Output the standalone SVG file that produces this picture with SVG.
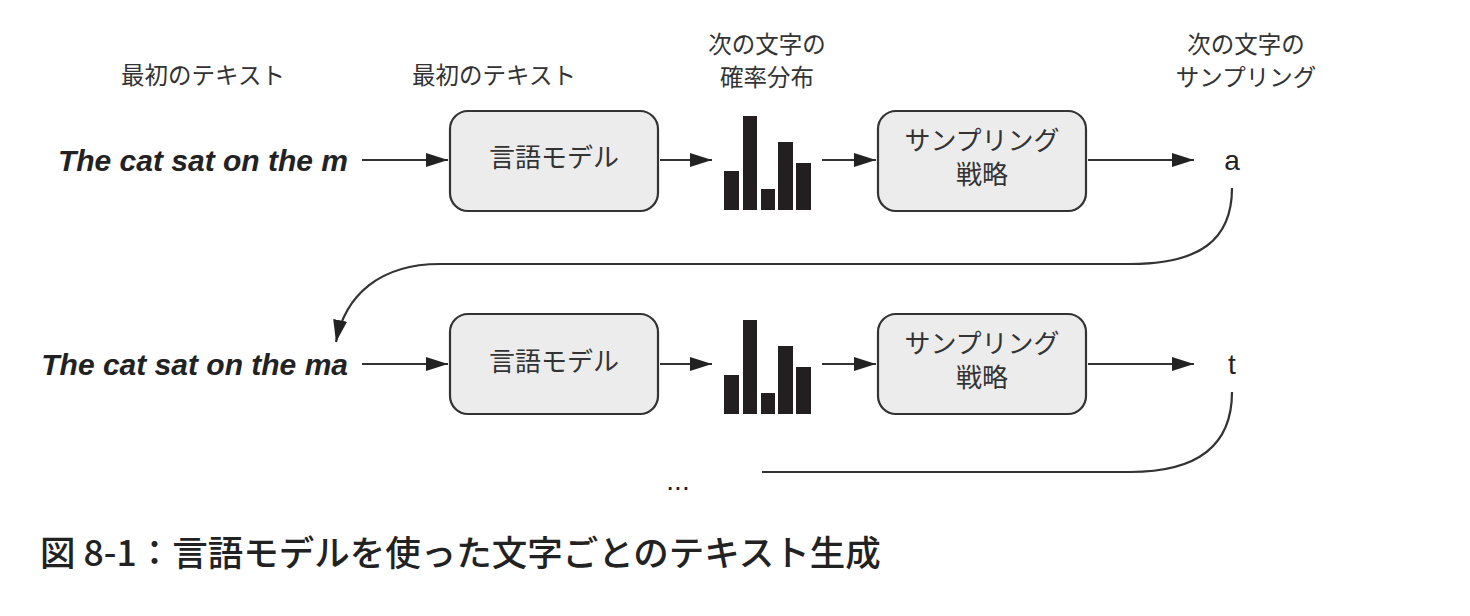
<svg xmlns="http://www.w3.org/2000/svg" width="1470" height="616" viewBox="0 0 1470 616">
<style>
.lbl{font-family:"Noto Sans CJK JP","Noto Sans",sans-serif;font-size:23.5px;fill:#333;text-anchor:middle}
.box{fill:#ececec;stroke:#333;stroke-width:2.2}
.bt{font-family:"Noto Sans CJK JP","Noto Sans",sans-serif;font-size:26px;fill:#333;text-anchor:middle}
.in{font-family:"Liberation Sans",Arial,sans-serif;font-size:30px;font-weight:bold;font-style:italic;fill:#222;text-anchor:end}
.out{font-family:"Liberation Sans",Arial,sans-serif;font-size:28px;fill:#222;text-anchor:middle}
.bar{fill:#231f20}
.ln{fill:none;stroke:#333;stroke-width:2.2}
.cap{font-family:"Noto Sans CJK JP","Noto Sans",sans-serif;font-size:35.5px;font-weight:500;fill:#222}
</style>
<defs>
<marker id="ah2" viewBox="0 0 10 10" refX="10" refY="5" markerWidth="22" markerHeight="22" markerUnits="userSpaceOnUse" orient="auto">
<path d="M0,1.8 L10,5 L0,8.2 Z" fill="#222"/>
</marker>
</defs>
<g id="labels">
<text class="lbl" x="203" y="84">最初のテキスト</text>
<text class="lbl" x="494" y="84">最初のテキスト</text>
<text class="lbl" x="767" y="53">次の文字の</text>
<text class="lbl" x="767" y="86">確率分布</text>
<text class="lbl" x="1246" y="53">次の文字の</text>
<text class="lbl" x="1246" y="86">サンプリング</text>
</g>
<g id="input1"><text class="in" x="348" y="171">The cat sat on the m</text></g>
<g id="lm1"><rect class="box" x="450" y="111" width="208" height="100" rx="18"/><text class="bt" x="554" y="167">言語モデル</text></g>
<g id="dist1">
<rect class="bar" x="724" y="171" width="15" height="39"/>
<rect class="bar" x="743" y="116" width="14" height="94"/>
<rect class="bar" x="761" y="189" width="14" height="21"/>
<rect class="bar" x="778" y="142" width="15" height="68"/>
<rect class="bar" x="796" y="163" width="15" height="47"/>
</g>
<g id="samp1"><rect class="box" x="878" y="111" width="208" height="100" rx="18"/><text class="bt" x="982" y="150">サンプリング</text><text class="bt" x="982" y="184">戦略</text></g>
<g id="out1"><text class="out" x="1232" y="170">a</text></g>
<g id="input2"><text class="in" x="348" y="375">The cat sat on the ma</text></g>
<g id="lm2"><rect class="box" x="450" y="314" width="208" height="100" rx="18"/><text class="bt" x="554" y="371">言語モデル</text></g>
<g id="dist2">
<rect class="bar" x="724" y="375" width="15" height="39"/>
<rect class="bar" x="743" y="320" width="14" height="94"/>
<rect class="bar" x="761" y="393" width="14" height="21"/>
<rect class="bar" x="778" y="346" width="15" height="68"/>
<rect class="bar" x="796" y="367" width="15" height="47"/>
</g>
<g id="samp2"><rect class="box" x="878" y="314" width="208" height="100" rx="18"/><text class="bt" x="982" y="353">サンプリング</text><text class="bt" x="982" y="387">戦略</text></g>
<g id="out2"><text class="out" x="1232" y="374">t</text></g>
<g id="dots"><text class="out" x="678" y="490">...</text></g>
<g id="connectors">
<line class="ln" x1="362" y1="160" x2="448" y2="160" marker-end="url(#ah2)"/>
<line class="ln" x1="660" y1="160" x2="712" y2="160" marker-end="url(#ah2)"/>
<line class="ln" x1="822" y1="160" x2="876" y2="160" marker-end="url(#ah2)"/>
<line class="ln" x1="1088" y1="160" x2="1194" y2="160" marker-end="url(#ah2)"/>
<path class="ln" d="M1232,188 C1232,240 1200,264 1130,264 L440,264 C380,264 345,295 336,342" marker-end="url(#ah2)"/>
<line class="ln" x1="362" y1="364" x2="448" y2="364" marker-end="url(#ah2)"/>
<line class="ln" x1="660" y1="364" x2="712" y2="364" marker-end="url(#ah2)"/>
<line class="ln" x1="822" y1="364" x2="876" y2="364" marker-end="url(#ah2)"/>
<line class="ln" x1="1088" y1="364" x2="1194" y2="364" marker-end="url(#ah2)"/>
<path class="ln" d="M1232,392 C1232,444 1200,472 1130,472 L762,472"/>
</g>
<g id="caption"><text class="cap" x="40" y="566">図 8-1：言語モデルを使った文字ごとのテキスト生成</text></g>
</svg>
